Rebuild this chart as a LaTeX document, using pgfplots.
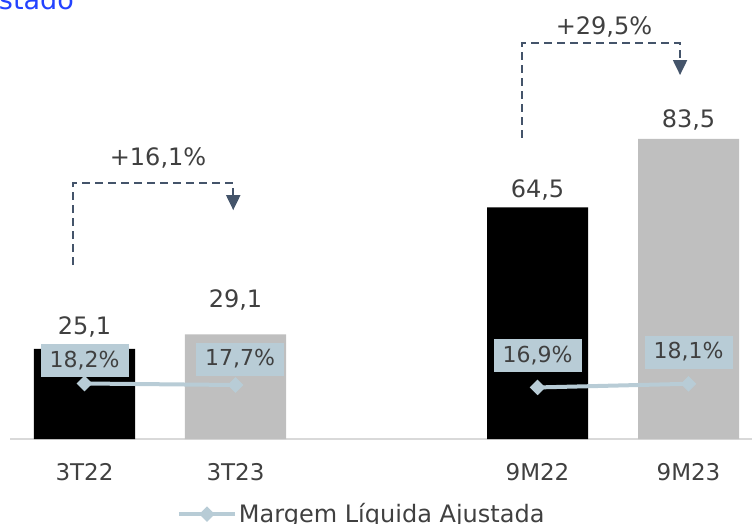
\documentclass[border=0pt]{standalone}
\usepackage{pgfplots}
\pgfplotsset{compat=1.18}
\usepackage{fontspec}
\setmainfont{DejaVu Sans}
\usetikzlibrary{arrows.meta}
\definecolor{txt}{RGB}{64,64,64}
\definecolor{barg}{RGB}{191,191,191}
\definecolor{mline}{RGB}{184,204,214}
\definecolor{arr}{RGB}{68,84,106}
\definecolor{ttl}{RGB}{35,66,255}
\definecolor{axl}{RGB}{217,217,217}
\newcommand{\fs}[1]{\fontsize{#1bp}{#1bp}\selectfont}
\begin{document}
\begin{tikzpicture}
\useasboundingbox (0,0) rectangle (752bp,-524bp);
\clip (0,0) rectangle (752bp,-524bp);
\node[anchor=base east, text=ttl, font=\fs{27}, inner sep=0pt] at (74bp,-9bp) {Lucro Líquido Ajustado};
\begin{axis}[
  at={(10bp,-439bp)}, anchor=south west,
  scale only axis, width=742bp, height=439bp,
  xmin=-0.4934, xmax=4.4205, ymin=0, ymax=122.18,
  ybar, bar width=0.669, bar shift=0pt,
  axis x line*=bottom, axis y line=none,
  x axis line style={draw=axl, line width=2bp, -},
  xtick={0,1,3,4}, xticklabels={3T22,3T23,9M22,9M23},
  major tick length=0pt,
  xticklabel style={anchor=base, yshift=-41.5bp, text=txt, font=\fs{23}},
  clip=false,
]
\addplot[fill=black, draw=none] coordinates {(0,25.1) (3,64.5)};
\addplot[fill=barg, draw=none] coordinates {(1,29.1) (4,83.5)};
\node[text=txt, font=\fs{24}] at (axis cs:0,31.2) {25,1};
\node[text=txt, font=\fs{24}] at (axis cs:1,38.7) {29,1};
\node[text=txt, font=\fs{24}] at (axis cs:3,69.3) {64,5};
\node[text=txt, font=\fs{24}] at (axis cs:4,88.8) {83,5};
\draw[arr, line width=2bp, dash pattern=on 8bp off 5bp, -{Triangle[width=14bp,length=15bp]}]
  (axis cs:-0.076,48.4) -- (axis cs:-0.076,71.2) -- (axis cs:0.985,71.2) -- (axis cs:0.985,63.7);
\draw[arr, line width=2bp, dash pattern=on 8bp off 5bp, -{Triangle[width=14bp,length=15bp]}]
  (axis cs:2.897,83.8) -- (axis cs:2.897,110.2) -- (axis cs:3.944,110.2) -- (axis cs:3.944,101.3);
\node[text=txt, font=\fs{24}] at (axis cs:0.487,78.2) {+16,1\%};
\node[text=txt, font=\fs{24}] at (axis cs:3.44,114.7) {+29,5\%};
\end{axis}
\begin{axis}[
  at={(10bp,-439bp)}, anchor=south west,
  scale only axis, width=742bp, height=439bp,
  xmin=-0.4934, xmax=4.4205, ymin=0, ymax=143.93,
  hide axis, clip=false,
  legend style={at={(0.474,-0.171)}, anchor=center, draw=none, fill=none, font=\fs{24}, text=txt, inner sep=0pt},
  legend cell align=left,
  legend image code/.code={\draw[mark repeat=2, mark phase=2, #1] plot coordinates {(0bp,0bp) (28bp,0bp) (56bp,0bp)};},
]
\addplot[mline, line width=4bp, mark=square*, mark size=5bp, mark options={rotate=45, solid, line width=1bp}, unbounded coords=jump]
  coordinates {(0,18.2) (1,17.7) (2,nan) (3,16.9) (4,18.1)};
\addlegendentry{Margem Líquida Ajustada}
\node[fill=mline, text=txt, font=\fs{22}, minimum width=88bp, minimum height=33bp, inner sep=0pt] at (axis cs:0,25.7) {18,2\%};
\node[fill=mline, text=txt, font=\fs{22}, minimum width=88bp, minimum height=33bp, inner sep=0pt] at (axis cs:1.03,26.2) {17,7\%};
\node[fill=mline, text=txt, font=\fs{22}, minimum width=88bp, minimum height=33bp, inner sep=0pt] at (axis cs:3.0,27.5) {16,9\%};
\node[fill=mline, text=txt, font=\fs{22}, minimum width=88bp, minimum height=33bp, inner sep=0pt] at (axis cs:4.0,28.5) {18,1\%};
\end{axis}
\end{tikzpicture}
\end{document}
